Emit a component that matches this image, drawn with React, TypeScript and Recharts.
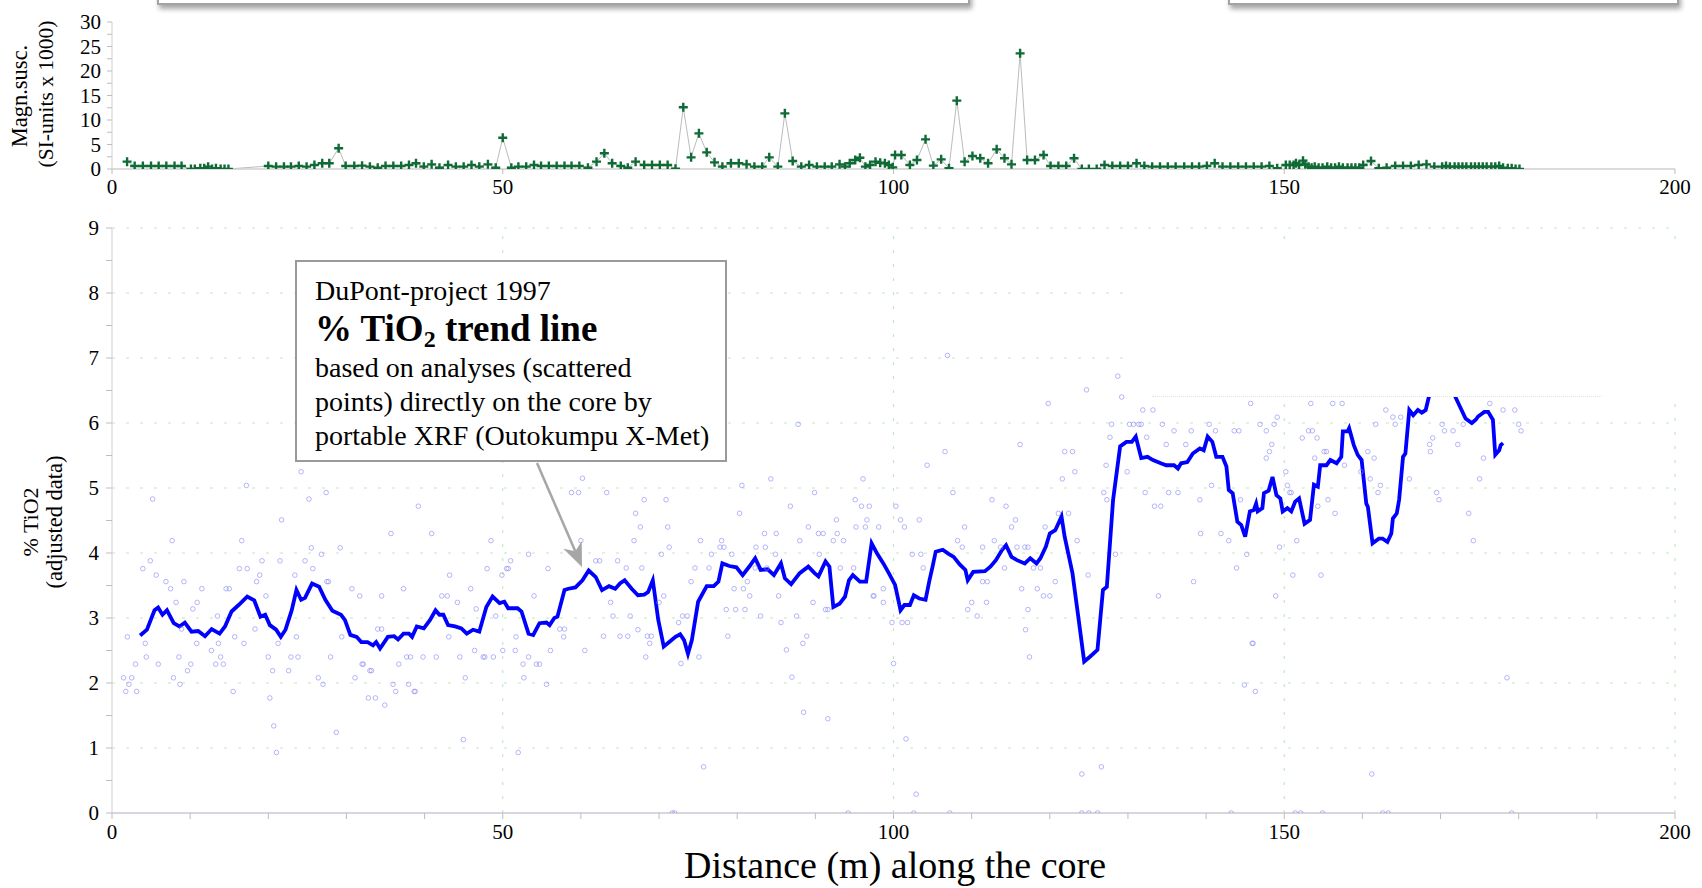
import React from 'react';
import { ComposedChart, Line, Scatter, XAxis, YAxis, ReferenceLine } from 'recharts';

const SERIF = "'Liberation Serif','Times New Roman',Times,serif";

// ---------- Top panel: magnetic susceptibility (distance m, SI-units x 1000)
const MAG_SUSC: [number, number][] = [
  [1.93,1.5],[2.9,0.61],[3.95,0.61],[4.99,0.61],[5.97,0.61],[6.95,0.61],[8.0,0.61],[8.9,0.61],[10.1,0],[10.6,0],[11.3,0.14],[11.8,0.14],[12.3,0.48],[12.8,0],[13.3,0.14],[13.9,0],[14.4,0],[14.9,0],
  [20.0,0.61],[21.0,0.48],[22.0,0.48],[22.9,0.48],[23.9,0.61],[24.9,0.48],[25.9,0.82],[26.9,1.16],[27.8,1.16],[29.0,4.22],[29.9,0.61],[31.0,0.61],[32.0,0.68],[33.0,0.48],[34.0,0.27],[35.0,0.61],[36.0,0.61],[37.0,0.61],[38.0,0.82],[38.9,1.16],[39.9,0.48],[40.9,0.95],[41.9,0.27],[43.0,0.82],[44.0,0.48],[45.0,0.48],[46.0,0.82],[47.0,0.48],[48.1,0.95],[49.1,0.27],[50.0,6.39],[51.1,0.27],[52.0,0.48],[53.0,0.48],[54.0,0.82],[54.9,0.61],[55.9,0.61],[56.9,0.61],[57.9,0.61],[58.8,0.61],[59.8,0.61],[60.9,0.27],[62.0,1.5],[63.0,3.2],[64.0,1.16],[65.1,0.61],[66.0,0.27],[67.0,1.5],[68.1,0.82],[69.1,0.82],[70.1,0.82],[71.1,0.82],[72.1,0.07],[73.1,12.6],[74.1,2.38],[75.1,7.28],[76.1,3.4],[77.1,1.36],[78.1,0.48],[79.2,1.16],[80.2,1.16],[81.2,0.95],[82.2,0.48],[83.2,0.48],[84.1,2.38],[85.2,0.48],[86.1,11.36],[87.1,1.63],[88.2,0.48],[89.2,0.82],[90.2,0.48],[91.2,0.48],[92.1,0.48],[93.1,0.95],[93.8,0.48],[94.4,1.16],[95.1,1.84],[95.7,2.31],[96.4,0.48],[97.0,0.82],[97.7,1.5],
  [98.3,1.29],[98.9,1.16],[99.4,0.82],[99.9,0.34],[100.2,2.86],[101.0,2.86],[102.1,0.82],[103.0,1.84],[104.1,6.05],[105.1,0.68],[106.1,1.97],[107.1,0.14],[108.1,13.95],[109.1,1.5],[110.1,2.65],[111.1,2.18],[112.1,1.16],[113.2,4.01],[114.2,2.18],[115.1,0.95],[116.2,23.6],[117.1,1.84],[118.1,1.84],[119.2,2.86],[120.1,0.61],[121.1,0.61],[122.1,0.61],[123.1,2.18],[124.1,0],[125.0,0],[126.0,0],[127.0,0.82],[128.0,0.61],[129.0,0.61],[130.0,0.61],[131.1,1.16],[132.1,0.61],[133.1,0.48],[134.1,0.48],[135.1,0.48],[136.1,0.48],[137.2,0.48],[138.2,0.48],[139.1,0.48],[140.1,0.61],[141.1,1.16],[142.1,0.48],[143.1,0.48],[144.1,0.48],[145.1,0.48],[146.1,0.48],[147.1,0.48],[148.1,0.61],[149.1,0.14],[150.2,0.82],[150.7,0.82],[151.2,0.82],[151.5,1.16],[151.9,0.82],[152.4,1.7],[152.7,0.95],[153.1,0.48],[153.5,0.27],[153.9,0.48],[154.4,0.27],[154.9,0.27],[155.5,0.48],[156.0,0.27],[156.5,0.27],[157.0,0.48],[157.5,0.27],[158.1,0.27],[158.6,0.27],[159.1,0.27],[159.6,0.27],[160.1,0.82],[161.1,1.63],[162.1,0.14],[163.1,0.27],[164.2,0.61],[165.2,0.61],[166.2,0.61],[167.2,0.82],[168.2,0.95],[169.2,0.48],[170.2,0.48],[170.7,0.61],[171.2,0.48],[171.8,0.48],[172.3,0.48],[172.8,0.48],[173.3,0.48],[173.9,0.48],[174.4,0.48],[174.9,0.48],[175.4,0.48],[175.9,0.48],[176.5,0.48],[177.0,0.48],[177.5,0.61],[178.0,0.27],[178.6,0.14],[179.1,0.14],[179.6,0],[180.1,0],
];

// ---------- Bottom panel: % TiO2 trend line (distance m, % TiO2)
const TIO2_TREND: [number, number][] = [
  [3.6,2.73],[4.47,2.82],[5.44,3.12],[5.9,3.16],[6.46,3.05],[7.03,3.12],[7.9,2.92],[8.64,2.87],[9.32,2.93],[10.17,2.79],[11.03,2.8],[11.9,2.72],[12.75,2.83],[13.77,2.76],[14.46,2.87],[15.3,3.1],[16.2,3.2],[17.3,3.33],[18.2,3.27],[19.0,3.02],[19.6,3.05],[20.2,2.89],[21.0,2.82],[21.6,2.71],[22.2,2.82],[23.0,3.12],[23.6,3.43],[24.2,3.28],[24.7,3.31],[25.6,3.53],[26.5,3.48],[27.3,3.28],[28.2,3.11],[29.3,3.05],[29.8,2.97],[30.5,2.74],[31.3,2.71],[31.9,2.63],[32.7,2.63],[33.4,2.58],[33.8,2.63],[34.3,2.53],[35.3,2.71],[36.1,2.72],[36.6,2.67],[37.3,2.76],[38.0,2.76],[38.4,2.71],[39.0,2.87],[39.9,2.84],[40.7,2.97],[41.4,3.12],[41.9,3.05],[42.4,3.05],[43.0,2.89],[43.9,2.87],[44.7,2.84],[45.4,2.76],[46.2,2.82],[47.0,2.79],[47.9,3.17],[48.7,3.33],[49.6,3.23],[50.2,3.25],[50.7,3.15],[51.9,3.15],[52.4,3.1],[53.3,2.76],[53.9,2.74],[54.7,2.92],[55.6,2.93],[56.0,2.89],[56.6,3.0],[57.0,3.02],[57.9,3.43],[58.4,3.45],[59.3,3.47],[60.2,3.58],[61.0,3.73],[61.9,3.63],[62.7,3.43],[63.6,3.49],[64.4,3.45],[65.0,3.53],[65.6,3.58],[66.5,3.45],[67.3,3.35],[68.1,3.36],[68.6,3.4],[69.2,3.58],[69.9,2.97],[70.6,2.56],[71.3,2.63],[72.1,2.71],[72.7,2.75],[73.2,2.66],[73.7,2.45],[74.2,2.66],[75.0,3.25],[76.1,3.49],[77.0,3.49],[77.6,3.56],[78.1,3.84],[79.0,3.8],[79.9,3.78],[80.7,3.66],[81.6,3.8],[82.3,3.92],[83.0,3.74],[83.9,3.75],[84.7,3.66],[85.6,3.84],[86.1,3.61],[86.9,3.52],[88.0,3.69],[89.1,3.79],[89.9,3.69],[90.4,3.64],[91.3,3.87],[91.8,3.79],[92.3,3.17],[93.1,3.22],[93.8,3.33],[94.3,3.58],[94.8,3.66],[95.7,3.56],[96.5,3.56],[97.2,4.15],[97.9,3.99],[98.7,3.84],[99.4,3.69],[100.2,3.51],[100.9,3.12],[101.4,3.2],[102.1,3.2],[102.6,3.35],[103.3,3.3],[104.1,3.28],[104.6,3.58],[105.0,3.79],[105.4,4.02],[106.3,4.05],[107.0,3.99],[107.7,3.94],[108.5,3.82],[109.2,3.74],[109.5,3.58],[110.2,3.71],[111.7,3.72],[112.4,3.79],[113.1,3.89],[113.9,4.05],[114.4,4.12],[115.1,3.94],[115.8,3.89],[116.8,3.84],[117.5,3.92],[118.3,3.84],[118.8,3.92],[119.5,4.1],[120.0,4.3],[120.7,4.35],[121.5,4.56],[121.9,4.25],[122.4,3.97],[122.9,3.69],[123.7,2.97],[124.4,2.33],[125.1,2.4],[126.1,2.51],[126.8,3.43],[127.3,3.48],[128.1,4.82],[129.0,5.64],[129.8,5.71],[130.5,5.71],[131.0,5.79],[131.7,5.46],[132.5,5.48],[133.2,5.43],[134.2,5.38],[134.9,5.35],[135.9,5.35],[136.4,5.3],[136.8,5.38],[137.6,5.4],[138.3,5.53],[139.2,5.61],[139.7,5.58],[140.2,5.79],[140.8,5.71],[141.3,5.48],[142.1,5.48],[142.6,5.33],[142.9,4.97],[143.4,4.92],[144.0,4.48],[144.5,4.43],[145.0,4.25],[145.6,4.64],[146.1,4.66],[146.4,4.76],[146.6,4.64],[147.2,4.69],[147.4,4.92],[148.0,4.96],[148.5,5.17],[149.0,4.89],[149.5,4.84],[149.8,4.64],[150.4,4.69],[150.9,4.64],[151.4,4.79],[151.9,4.84],[152.6,4.45],[153.3,4.51],[153.8,5.05],[154.3,5.02],[154.6,5.35],[155.4,5.35],[155.9,5.43],[156.7,5.38],[157.3,5.48],[157.5,5.87],[158.1,5.87],[158.3,5.92],[158.9,5.66],[159.4,5.51],[159.9,5.43],[160.5,4.76],[160.7,4.71],[161.3,4.15],[162.1,4.22],[162.6,4.22],[163.2,4.17],[163.7,4.3],[163.9,4.53],[164.4,4.61],[164.7,4.82],[165.2,5.48],[165.5,5.53],[166.0,6.2],[166.5,6.12],[167.1,6.2],[167.6,6.16],[168.1,6.2],[168.5,6.4],[169.2,6.8],[170.0,7.0],[170.8,6.9],[171.5,6.7],[171.9,6.4],[173.2,6.07],[174.0,6.0],[174.5,6.05],[174.8,6.1],[175.6,6.17],[176.1,6.17],[176.7,6.05],[177.0,5.51],[177.5,5.58],[177.7,5.66],[178.0,5.69],
];

// ---------- Bottom panel: individual XRF analyses (distance m, % TiO2)
const TIO2_ANALYSES: [number, number][] = [
  [1.48,2.08],[2.52,2.08],[2.17,1.98],[1.76,1.87],[3.15,1.87],[1.97,2.71],[3.0,2.29],[4.26,2.61],[4.39,2.4],[5.92,2.29],[7.86,2.08],[8.56,2.4],[8.69,1.98],[9.66,2.19],[10.08,2.29],[10.84,2.61],[12.72,2.5],[13.27,2.29],[13.62,2.61],[13.9,2.4],[14.24,2.29],[15.5,1.87],[15.7,2.71],[16.88,2.61],[20.0,2.4],[20.2,1.77],[20.55,2.19],[20.7,1.34],[21.04,0.93],[21.25,2.61],[22.9,2.4],[22.6,2.19],[23.8,2.4],[23.6,2.71],[26.4,2.08],[27.0,1.98],[27.97,2.4],[28.7,1.24],[29.4,2.71],[31.1,2.08],[32.0,2.29],[32.15,2.29],[32.8,1.77],[33.0,2.19],[33.2,2.19],[33.7,1.77],[34.9,1.66],[35.96,1.98],[36.3,1.87],[36.7,2.29],[37.7,2.4],[37.96,1.98],[38.2,2.4],[38.66,1.87],[38.8,1.87],[39.8,2.4],[41.5,2.4],[43.1,2.71],[44.5,2.4],[45.2,2.08],[44.97,1.13],[46.4,2.5],[47.5,2.4],[47.7,2.4],[48.8,2.4],[50.0,2.5],[51.6,2.5],[51.7,2.71],[51.98,0.93],[52.6,2.29],[52.7,2.08],[53.3,2.4],[54.3,2.29],[54.7,2.29],[55.6,1.98],[56.1,2.5],[57.8,2.71],[60.5,2.5],
  [71.7,0],[72.0,0],[75.7,0.71],[88.5,1.55],[91.6,1.45],[94.2,0],
  [5.2,4.83],[4.9,3.88],[3.95,3.76],[5.66,3.66],[6.9,3.56],[7.5,3.45],[7.7,4.19],[8.2,3.24],[9.2,3.56],[10.35,3.14],[10.9,3.24],[11.5,3.45],[13.5,3.03],[14.6,3.45],[15.0,3.45],[16.3,3.76],[16.6,4.19],[17.3,3.76],[17.2,5.04],[18.5,3.56],[18.9,3.66],[19.2,3.88],[19.7,3.34],[21.5,3.88],[21.7,4.51],[23.4,3.66],[24.7,3.88],[25.2,4.83],[25.5,4.08],[25.7,3.76],[26.8,3.98],[27.5,3.56],[27.7,3.56],[27.4,4.93],[29.2,4.08],[30.7,3.45],[31.7,3.34],[34.5,3.34],[35.7,4.3],[37.3,3.45],[39.2,4.72],[40.9,4.3],[42.2,3.34],[42.9,3.34],[43.2,3.66],[44.2,3.24],[45.9,3.45],[46.6,3.14],[48.0,3.76],[48.5,4.19],[49.9,3.66],[50.5,3.76],[50.7,3.76],[51.0,3.88],[53.3,3.98],[54.0,3.34],[55.8,3.76],[58.8,4.93],[59.7,4.93],[60.0,4.19],[61.9,3.88],
  [8.9,2.83],[18.3,2.83],[34.0,2.83],[34.5,2.83],[49.1,3.03],[57.3,2.83],[57.9,2.83],[24.2,5.25],[60.2,5.15],
  [106.9,7.04],[128.7,6.72],[124.7,6.51],[129.2,6.4],[119.8,6.3],[131.9,6.2],[133.2,6.2],[87.8,5.98],[127.9,5.98],[130.2,5.98],[130.7,5.98],[131.4,5.98],[131.7,5.98],[134.4,5.98],[135.9,5.88],[138.1,5.88],[127.7,5.78],[132.4,5.78],[134.9,5.67],[137.4,5.67],[116.2,5.67],[106.6,5.56],[121.9,5.56],[122.9,5.56],[104.3,5.35],[127.2,5.35],[129.9,5.25],[123.2,5.25],[84.3,5.14],[96.1,5.14],[80.6,5.04],[121.6,5.14],[63.3,4.93],[89.9,4.93],[107.6,4.93],[126.9,4.93],[132.2,4.93],[135.2,4.93],[136.4,4.93],[68.1,4.82],[70.9,4.82],[95.1,4.82],[86.8,4.72],[95.9,4.72],[96.9,4.72],[100.3,4.72],[112.6,4.82],[114.4,4.72],[127.3,4.82],[133.4,4.72],[134.2,4.72],[67.0,4.61],[80.3,4.61],[121.1,4.61],[122.4,4.61],[92.7,4.51],[96.6,4.51],[100.9,4.51],[103.3,4.51],[115.6,4.51],[67.6,4.4],[71.1,4.4],[89.1,4.4],[95.2,4.4],[96.4,4.4],[98.1,4.4],[101.4,4.4],[109.1,4.4],[115.1,4.4],[119.4,4.4],[83.5,4.3],[85.0,4.3],[90.4,4.3],[91.0,4.3],[92.8,4.3],[66.8,4.19],[75.3,4.19],[78.0,4.19],[88.0,4.19],[92.3,4.19],[93.6,4.19],[108.2,4.19],[112.9,4.19],[123.5,4.19],[71.3,4.09],[77.8,4.09],[78.3,4.09],[82.4,4.09],[83.6,4.09],[108.8,4.09],[111.4,4.09],[113.7,4.09],[115.8,4.09],[116.8,4.09],[117.2,4.09],[70.3,3.98],[76.7,3.98],[79.3,3.98],[84.9,3.98],[90.5,3.98],[102.4,3.98],[103.5,3.98],[128.4,3.98],[64.7,3.88],[62.4,3.88],[65.8,3.77],[67.8,3.77],[74.6,3.77],[76.4,3.77],[82.3,3.77],[83.8,3.77],[93.2,3.77],[94.9,3.77],[103.8,3.77],[114.2,3.77],[117.9,3.77],[118.8,3.77],[138.4,3.56],[74.1,3.56],[79.6,3.45],[80.8,3.45],[81.3,3.56],[111.4,3.56],[112.0,3.56],[116.4,3.45],[118.4,3.45],[120.7,3.56],[124.9,3.66],[70.6,3.34],[81.6,3.34],[85.3,3.34],[89.7,3.24],[97.5,3.34],[98.7,3.45],[70.0,3.24],[97.4,3.34],[119.2,3.34],[120.0,3.34],[133.9,3.34],[98.7,3.24],[63.8,3.24],[110.0,3.24],[111.9,3.24],[64.1,3.03],[66.3,3.03],[73.0,3.03],[73.6,3.03],[78.6,3.13],[79.8,3.13],[81.0,3.13],[83.0,3.03],[87.6,3.03],[91.3,3.13],[91.6,3.13],[109.5,3.13],[110.7,3.03],[117.2,3.13],[67.3,2.82],[85.6,2.93],[99.8,2.93],[101.1,2.93],[101.8,2.93],[116.9,2.82],[62.9,2.72],[65.0,2.72],[66.0,2.72],[68.5,2.72],[69.0,2.72],[72.5,2.93],[88.9,2.72],[68.8,2.61],[78.8,2.72],[88.4,2.61],[86.3,2.51],[68.3,2.4],[75.1,2.4],[117.4,2.4],[72.8,2.3],[100.0,2.3],[87.0,2.09],
  [101.6,1.14],[102.9,0.29],[124.1,0.6],[126.6,0.71],[161.2,0.6],[178.5,2.08],[144.9,1.97],[146.3,1.87],[146.0,2.61],
  [102.6,0],[107.2,0],[124.1,0],[125.0,0],[126.1,0],[143.2,0],[151.4,0],[152.1,0],[154.9,0],[162.6,0],[163.3,0],[179.1,0],
  [139.2,4.82],[139.3,4.3],[140.4,5.98],[140.7,5.04],[141.2,5.88],[141.9,4.3],[142.9,4.19],[143.6,5.88],[143.9,3.77],[144.2,5.88],[144.4,4.82],[145.2,3.98],[145.7,6.3],[145.9,2.61],[146.9,5.98],[147.7,5.88],[147.7,5.46],[148.1,5.56],[148.4,5.67],[148.7,5.98],[148.9,3.34],[149.1,6.09],[149.4,4.09],[150.2,5.25],[150.4,5.04],[150.7,4.93],[150.9,4.93],[151.1,3.66],[151.6,4.19],[152.3,5.77],[153.1,5.88],[153.4,6.3],[153.6,5.88],[153.9,5.46],[154.2,5.77],[154.3,4.72],[154.7,3.66],[155.1,5.56],[155.4,5.56],[155.6,4.82],[156.2,6.3],[156.5,4.61],[157.4,6.3],[157.7,5.35],[159.8,5.25],[160.7,5.56],[161.0,5.14],[161.5,5.46],[161.7,5.98],[162.0,4.93],[162.3,5.04],[163.0,6.2],[163.9,6.09],[164.2,5.98],[164.9,6.09],[166.0,5.14],[168.6,5.67],[168.7,5.56],[169.0,5.77],[169.5,4.93],[169.8,4.82],[170.2,5.98],[170.5,5.88],[171.6,5.88],[172.2,5.67],[172.9,5.98],[173.6,4.61],[174.2,4.19],[175.0,5.14],[175.5,5.46],[176.3,6.3],[178.0,6.2],[179.5,6.2],[180.0,5.98],[180.3,5.88],
];

// ---------- Axes
const X_TICKS_TOP = [0, 50, 100, 150, 200];
const X_TICKS_BOTTOM = [0, 10, 20, 30, 40, 50, 60, 70, 80, 90, 100, 110, 120, 130, 140, 150, 160, 170, 180, 190, 200];
const Y_TICKS_TOP = [0, 2.5, 5, 7.5, 10, 12.5, 15, 17.5, 20, 22.5, 25, 27.5, 30];
const Y_TICKS_BOTTOM = [0, 0.5, 1, 1.5, 2, 2.5, 3, 3.5, 4, 4.5, 5, 5.5, 6, 6.5, 7, 7.5, 8, 8.5, 9];
const GRID_Y = [1, 2, 3, 4, 5, 6, 7, 8, 9];
const GRID_X = [50, 100, 150, 200];

const toPts = (a: [number, number][]) => a.map(([d, v]) => ({ d, v }));

const PlusDot = (props: any) => {
  const { cx, cy, index } = props;
  if (cx == null || cy == null) return <g key={index} />;
  return (
    <path key={index} d={`M${cx - 4.5},${cy}h9M${cx},${cy - 4.5}v9`} stroke="#0f6b35" strokeWidth={2.4} fill="none" />
  );
};

const Ring = (props: any) => {
  const { cx, cy } = props;
  return <circle cx={cx} cy={cy} r={2.3} fill="none" stroke="#8a8af2" strokeWidth={0.9} opacity={0.7} />;
};

const tickStyle = { fill: '#000', fontSize: 21, fontFamily: SERIF };

const rotLabel = (text: string, x: number, y: number, size: number) => (
  <div
    style={{
      position: 'absolute', left: x, top: y, transform: 'translate(-50%, -50%) rotate(-90deg)',
      whiteSpace: 'nowrap', fontFamily: SERIF, fontSize: size, lineHeight: 1, color: '#000',
    }}
  >
    {text}
  </div>
);

export default function App() {
  const mag = toPts(MAG_SUSC);
  const trend = toPts(TIO2_TREND);
  const analyses = toPts(TIO2_ANALYSES);
  const ux = 45 / 114.2, uy = 105 / 114.2; // arrow direction
  const tip = { x: 582, y: 567 };
  const base = { x: tip.x - 24 * ux, y: tip.y - 24 * uy };
  const notch = { x: tip.x - 17 * ux, y: tip.y - 17 * uy };
  const w1 = { x: base.x - 10 * uy, y: base.y + 10 * ux };
  const w2 = { x: base.x + 10 * uy, y: base.y - 10 * ux };

  return (
    <div style={{ position: 'absolute', left: 0, top: 0, width: 1702, height: 888, background: '#fff', overflow: 'hidden', fontFamily: SERIF }}>
      {/* partially visible boxes at the very top */}
      <div style={{ position: 'absolute', left: 157, top: -38, width: 813, height: 43, boxSizing: 'border-box', border: '2px solid #a3a3a3', background: '#fff', boxShadow: '2px 4px 5px rgba(0,0,0,0.35)' }} />
      <div style={{ position: 'absolute', left: 1228, top: -38, width: 451, height: 43, boxSizing: 'border-box', border: '2px solid #a3a3a3', background: '#fff', boxShadow: '2px 4px 5px rgba(0,0,0,0.35)' }} />

      {/* top panel */}
      <div style={{ position: 'absolute', left: 0, top: 0 }}>
        <ComposedChart width={1702} height={210} margin={{ top: 22, right: 27, left: 0, bottom: 0 }}>
          <XAxis type="number" dataKey="d" domain={[0, 200]} ticks={X_TICKS_TOP} interval={0} allowDataOverflow
            tick={tickStyle} tickLine={{ stroke: '#bdbdbd' }} axisLine={{ stroke: '#cfcfcf', strokeWidth: 1.5 }} tickSize={5} tickMargin={5} height={41} />
          <YAxis type="number" dataKey="v" domain={[0, 30]} ticks={Y_TICKS_TOP} interval={0} allowDataOverflow
            tickFormatter={(v: number) => (v % 5 === 0 ? String(v) : '')}
            tick={tickStyle} tickLine={{ stroke: '#bdbdbd' }} axisLine={{ stroke: '#cfcfcf' }} tickSize={5} tickMargin={6} width={112} />
          <Line data={mag} dataKey="v" type="linear" stroke="#b3b3b3" strokeWidth={0.9} dot={PlusDot} activeDot={false} isAnimationActive={false} />
        </ComposedChart>
      </div>

      {/* bottom panel */}
      <div style={{ position: 'absolute', left: 0, top: 200 }}>
        <ComposedChart width={1702} height={688} margin={{ top: 28, right: 27, left: 0, bottom: 0 }}>
          <XAxis type="number" dataKey="d" domain={[0, 200]} ticks={X_TICKS_BOTTOM} interval={0} allowDataOverflow
            tickFormatter={(v: number) => (v % 50 === 0 ? String(v) : '')}
            tick={tickStyle} tickLine={{ stroke: '#bdbdbd' }} axisLine={{ stroke: '#c8c8d4', strokeWidth: 1.5 }} tickSize={6} tickMargin={5} height={75} />
          <YAxis type="number" dataKey="v" domain={[0, 9]} ticks={Y_TICKS_BOTTOM} interval={0} allowDataOverflow
            tickFormatter={(v: number) => (Number.isInteger(v) ? String(v) : '')}
            tick={tickStyle} tickLine={{ stroke: '#bdbdbd' }} axisLine={{ stroke: '#cfcfcf' }} tickSize={6} tickMargin={7} width={112} />
          {GRID_Y.map((g) => (
            <ReferenceLine key={'gy' + g} y={g} stroke="#bfeabf" strokeDasharray="3 11" strokeWidth={1.2} />
          ))}
          {GRID_X.map((g) => (
            <ReferenceLine key={'gx' + g} x={g} stroke="#bfeabf" strokeDasharray="3 11" strokeWidth={1.2} />
          ))}
          <Scatter data={analyses} dataKey="v" shape={Ring} isAnimationActive={false} />
          <Line data={trend} dataKey="v" type="linear" stroke="#0000ff" strokeWidth={3.8} dot={false} activeDot={false} isAnimationActive={false} />
        </ComposedChart>
      </div>

      {/* white panel hiding the upper right of the plot */}
      <div style={{ position: 'absolute', left: 1134, top: 245, width: 568, height: 152, background: '#fff' }} />
      <div style={{ position: 'absolute', left: 1152, top: 396, width: 450, height: 0, borderTop: '1px dotted #e2e2e2' }} />

      {/* axis titles */}
      {rotLabel('Magn.susc.', 20, 96, 22.5)}
      {rotLabel('(SI-units x 1000)', 47, 94, 21.5)}
      {rotLabel('% TiO2', 31, 522, 22)}
      {rotLabel('(adjusted data)', 55, 522, 22.5)}
      <div style={{ position: 'absolute', left: 895, top: 848, transform: 'translateX(-50%)', whiteSpace: 'nowrap', fontSize: 38, lineHeight: '34px', color: '#000' }}>
        Distance (m) along the core
      </div>

      {/* annotation box */}
      <div style={{ position: 'absolute', left: 295, top: 260, width: 432, height: 202, boxSizing: 'border-box', border: '2px solid #9a9a9a', background: '#fff', padding: '12px 0 0 18px', color: '#000' }}>
        <div style={{ fontSize: 28, lineHeight: '34px', whiteSpace: 'nowrap' }}>DuPont-project 1997</div>
        <div style={{ fontSize: 37, lineHeight: '42px', fontWeight: 'bold', whiteSpace: 'nowrap' }}>
          % TiO<sub style={{ fontSize: 24, verticalAlign: '-6px', lineHeight: 0 }}>2</sub> trend line
        </div>
        <div style={{ fontSize: 28, lineHeight: '35px', whiteSpace: 'nowrap' }}>based on analyses (scattered</div>
        <div style={{ fontSize: 28, lineHeight: '34px', whiteSpace: 'nowrap' }}>points) directly on the core by</div>
        <div style={{ fontSize: 28, lineHeight: '34px', whiteSpace: 'nowrap' }}>portable XRF (Outokumpu X-Met)</div>
      </div>

      {/* annotation arrow */}
      <svg width={1702} height={888} style={{ position: 'absolute', left: 0, top: 0, pointerEvents: 'none' }}>
        <line x1={537} y1={463} x2={notch.x} y2={notch.y} stroke="#a6a6a6" strokeWidth={2.5} />
        <polygon points={`${tip.x},${tip.y} ${w1.x},${w1.y} ${notch.x},${notch.y} ${w2.x},${w2.y}`} fill="#a6a6a6" />
      </svg>
    </div>
  );
}
